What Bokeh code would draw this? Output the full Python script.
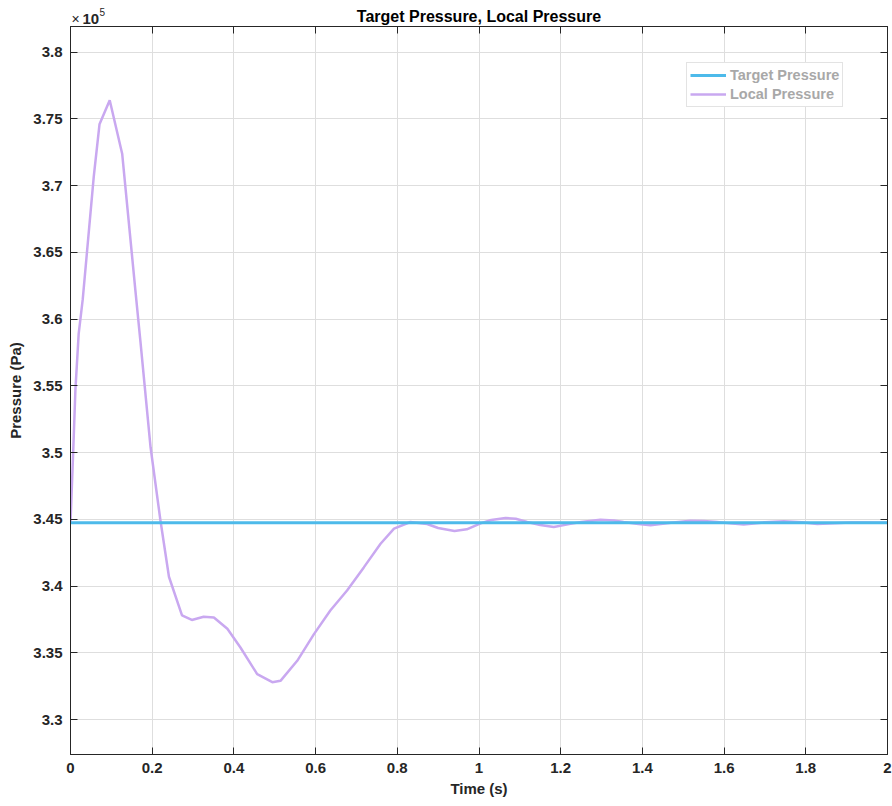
from bokeh.plotting import figure
from bokeh.layouts import column
from bokeh.models import (Range1d, LinearAxis, FixedTicker, CustomJSTickFormatter,
                          Legend, LegendItem)
from bokeh.core.properties import value
from bokeh.embed import file_html
from bokeh.resources import INLINE

# Simulation output: time (s) and pressures (x1e5 Pa)
time_s = [0.0, 0.007, 0.012, 0.02, 0.03, 0.057, 0.071, 0.096, 0.1265, 0.159,
          0.171, 0.196, 0.22, 0.241, 0.273, 0.297, 0.326, 0.351, 0.384, 0.416,
          0.457, 0.494, 0.514, 0.555, 0.596, 0.636, 0.677, 0.718, 0.759, 0.792,
          0.832, 0.873, 0.9, 0.94, 0.97, 1.004, 1.03, 1.065, 1.09, 1.118, 1.15,
          1.183, 1.224, 1.25, 1.297, 1.33, 1.354, 1.39, 1.42, 1.47, 1.518, 1.55,
          1.583, 1.62, 1.648, 1.70, 1.746, 1.79, 1.828, 1.87, 1.91, 1.95, 2.0]
local_pressure = [3.4474, 3.504, 3.547, 3.589, 3.615, 3.707, 3.746, 3.764, 3.724, 3.621,
                  3.584, 3.504, 3.4495, 3.407, 3.378, 3.3746, 3.377, 3.3765, 3.368, 3.354,
                  3.334, 3.328, 3.329, 3.344, 3.364, 3.3817, 3.3967, 3.414, 3.4317, 3.443,
                  3.448, 3.4465, 3.4435, 3.4412, 3.4425, 3.447, 3.4495, 3.451, 3.4505, 3.448, 3.4458,
                  3.4443, 3.4466, 3.448, 3.4497, 3.4492, 3.448, 3.4465, 3.4455, 3.4475, 3.449, 3.4488,
                  3.448, 3.4468, 3.4462, 3.4478, 3.4486, 3.4478, 3.4465, 3.447, 3.4477, 3.4476, 3.4474]
local_pressure = [v * 1e5 for v in local_pressure]
target_time = [0.0, 2.0]
target_pressure = [344738.0, 344738.0]

x_ticks = [0, 0.2, 0.4, 0.6, 0.8, 1.0, 1.2, 1.4, 1.6, 1.8, 2.0]
y_ticks = [330000, 335000, 340000, 345000, 350000, 355000, 360000, 365000,
           370000, 375000, 380000]
y_lo, y_hi = 327380, 381930

TITLE = "Target Pressure, Local Pressure"
FONT = "Liberation Sans"
INK = "#262626"
LEFT, RIGHT_PAD = 70, 5

# ---- header strip: title and axis exponent (coordinates are pixels) ----
head = figure(width=892, height=26, output_backend="svg", toolbar_location=None,
              title=None,
              x_range=Range1d(LEFT, 892 - RIGHT_PAD), y_range=Range1d(26, 0),
              x_axis_type=None, y_axis_type=None,
              min_border_left=LEFT, min_border_right=RIGHT_PAD,
              min_border_top=0, min_border_bottom=0,
              background_fill_color="white", border_fill_color="white")
head.outline_line_color = None
head.grid.visible = False
head.text(x=[478.5], y=[16], text=[TITLE], text_font=value(FONT),
          text_font_style="bold", text_font_size="16px", text_color="black",
          text_align="center", text_baseline="alphabetic")
head.text(x=[71], y=[18.5], text=["×"], text_font=value(FONT),
          text_font_size="14px", text_color=INK, text_align="left",
          text_baseline="alphabetic")
head.text(x=[82], y=[18.5], text=["10"], text_font=value(FONT),
          text_font_style="bold", text_font_size="15px", text_color=INK,
          text_align="left", text_baseline="alphabetic")
head.text(x=[99], y=[11], text=["5"], text_font=value(FONT),
          text_font_size="10px", text_color=INK, text_align="left",
          text_baseline="alphabetic")

# ---- main plot ----
p = figure(width=892, height=780, output_backend="svg", toolbar_location=None,
           x_range=Range1d(0, 2), y_range=Range1d(y_lo, y_hi),
           min_border_left=LEFT, min_border_right=RIGHT_PAD, min_border_top=0,
           min_border_bottom=52, background_fill_color="white",
           border_fill_color="white")
p.outline_line_color = INK
p.outline_line_width = 1

x_fmt = CustomJSTickFormatter(code="return parseFloat(tick.toFixed(1)).toString();")
y_fmt = CustomJSTickFormatter(code="return parseFloat((tick/1e5).toFixed(2)).toString();")
blank = CustomJSTickFormatter(code="return '';")


def style_axis(ax, ticks, fmt, show_labels=True):
    ax.ticker = FixedTicker(ticks=ticks)
    ax.formatter = fmt
    ax.axis_line_color = INK
    ax.major_tick_line_color = INK
    ax.major_tick_in = 7
    ax.major_tick_out = 0
    ax.minor_tick_line_color = None
    ax.major_label_text_font = FONT
    ax.major_label_text_font_style = "bold"
    ax.major_label_text_font_size = "15px"
    ax.major_label_text_color = INK
    ax.axis_label_text_font = FONT
    ax.axis_label_text_font_style = "bold"
    ax.axis_label_text_font_size = "15px"
    ax.axis_label_text_color = INK
    if not show_labels:
        ax.major_label_standoff = 0
        ax.major_label_text_font_size = "0px"


style_axis(p.xaxis[0], x_ticks, x_fmt)
style_axis(p.yaxis[0], y_ticks, y_fmt)
p.xaxis[0].axis_label = "Time (s)"
p.xaxis[0].major_label_standoff = 8
p.xaxis[0].axis_label_standoff = 4
p.yaxis[0].axis_label = "Pressure (Pa)"
p.yaxis[0].major_label_standoff = 8
p.yaxis[0].axis_label_standoff = 6

top_axis = LinearAxis()
style_axis(top_axis, x_ticks, blank, show_labels=False)
p.add_layout(top_axis, "above")
right_axis = LinearAxis()
style_axis(right_axis, y_ticks, blank, show_labels=False)
p.add_layout(right_axis, "right")

for g in (p.xgrid[0], p.ygrid[0]):
    g.grid_line_color = "#dedede"
    g.grid_line_width = 1
p.xgrid[0].ticker = FixedTicker(ticks=x_ticks)
p.ygrid[0].ticker = FixedTicker(ticks=y_ticks)

local_r = p.line(time_s, local_pressure, line_color="#C9A8F0", line_width=2.5)
target_r = p.line(target_time, target_pressure, line_color="#4DBAEA", line_width=3)

legend = Legend(items=[LegendItem(label="Target Pressure", renderers=[target_r]),
                       LegendItem(label="Local Pressure", renderers=[local_r])],
                location=(616, 647))
legend.label_text_font = FONT
legend.label_text_font_style = "bold"
legend.label_text_font_size = "14.5px"
legend.label_text_color = "#a8a8a8"
legend.border_line_color = "#c8c8c8"
legend.border_line_width = 1
legend.background_fill_color = "white"
legend.background_fill_alpha = 1
legend.padding = 3
legend.spacing = 1
legend.margin = 0
legend.glyph_width = 36
legend.glyph_height = 18
legend.label_height = 18
legend.label_standoff = 4
p.add_layout(legend, "center")

layout = column(head, p, spacing=0)
open("out.html", "w").write(file_html(layout, INLINE))
